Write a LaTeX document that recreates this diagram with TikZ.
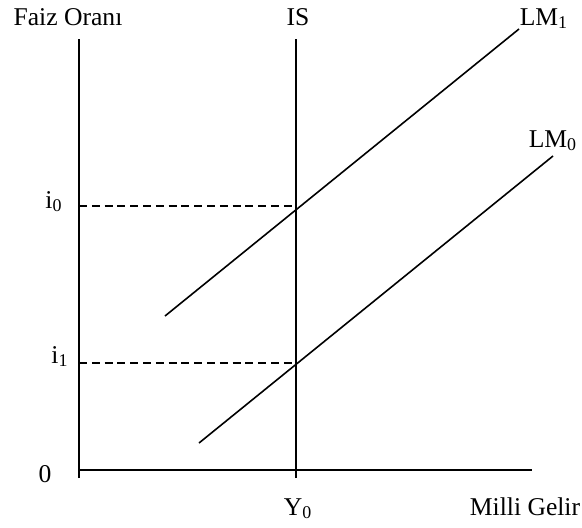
\documentclass[tikz,border=0pt]{standalone}
\usepackage{fontspec}
\setmainfont{Liberation Serif}
\usetikzlibrary{positioning}

\begin{document}
\begin{tikzpicture}[
  x=0.5pt, y=0.5pt,
  font=\fontsize{12.8}{15}\selectfont,
  axisline/.style={line width=0.8pt},
  curveline/.style={line width=0.8pt},
  guideline/.style={line width=0.7pt, dash pattern=on 4pt off 2.4pt},
  axislabel/.style={inner sep=0pt, anchor=base}
]
  \useasboundingbox (0,0) rectangle (582,527);

  % Axes and IS curve
  \coordinate (origin) at (79,57);
  \coordinate (ytop) at (79,488);
  \coordinate (ybot) at (79,49);
  \coordinate (xend) at (532,57);
  \coordinate (istop) at (296,488);
  \coordinate (isbot) at (296,49);

  \draw[axisline] (ybot) -- (ytop);
  \draw[axisline] (origin) -- (xend);
  \draw[curveline] (isbot) -- (istop);

  % LM curves
  \coordinate (lmonelow) at (165,211);
  \coordinate (lmonehigh) at (519,498);
  \coordinate (lmzerolow) at (199,84);
  \coordinate (lmzerohigh) at (553,371);

  \draw[curveline] (lmonelow) -- (lmonehigh);
  \draw[curveline] (lmzerolow) -- (lmzerohigh);

  % Interest rate levels
  \coordinate (izero) at (79,321);
  \coordinate (ione) at (79,164);
  \coordinate (eqzero) at (296,321);
  \coordinate (eqone) at (296,164);

  \draw[guideline] (izero) -- (eqzero);
  \draw[guideline] (ione) -- (eqone);

  % Labels
  \node[axislabel] (yname) at (68,502) {Faiz Oranı};
  \node[axislabel] (isname) at (298,502) {IS};
  \node[axislabel] (lmonename) at (544,502) {LM\textsubscript{1}};
  \node[axislabel] (lmzeroname) at (553,380) {LM\textsubscript{0}};
  \node[axislabel] (izeroname) at (54,319) {i\textsubscript{0}};
  \node[axislabel] (ionename) at (60,164) {i\textsubscript{1}};
  \node[axislabel] (zeroname) at (45,45) {0};
  \node[axislabel] (yzeroname) at (298,12) {Y\textsubscript{0}};
  \node[axislabel] (xname) at (525,12) {Milli Gelir};

\end{tikzpicture}
\end{document}
